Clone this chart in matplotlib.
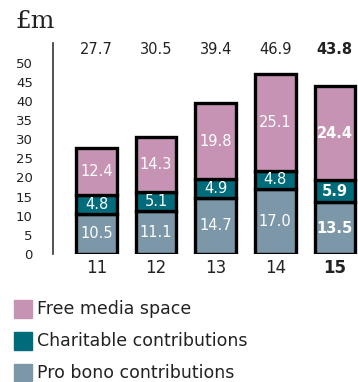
import matplotlib
matplotlib.use("Agg")
import matplotlib.pyplot as plt
from matplotlib.patches import Rectangle
import numpy as np

years = ["11", "12", "13", "14", "15"]
pro_bono = [10.5, 11.1, 14.7, 17.0, 13.5]
charitable = [4.8, 5.1, 4.9, 4.8, 5.9]
free_media = [12.4, 14.3, 19.8, 25.1, 24.4]
totals = [27.7, 30.5, 39.4, 46.9, 43.8]
y_ticks = [0, 5, 10, 15, 20, 25, 30, 35, 40, 45, 50]

series_names = ["Free media space", "Charitable contributions", "Pro bono contributions"]
c_media = "#c793b4"
c_char = "#006b7b"
c_pro = "#7b97a8"
txt = "#222222"

plt.rcParams["font.family"] = ["DejaVu Sans"]

W, H = 358, 382
fig = plt.figure(figsize=(W / 100, H / 100), dpi=100)
ax_left, ax_bottom_px, ax_top_px = 53, 254, 43.4
ax = fig.add_axes([ax_left / W, (H - ax_bottom_px) / H, (W - ax_left) / W,
                   (ax_bottom_px - ax_top_px) / H])

x = np.arange(len(years))
width = 0.68
edge = dict(edgecolor="black", linewidth=2.4)
bottom = np.zeros(len(years))
for vals, col in [(pro_bono, c_pro), (charitable, c_char), (free_media, c_media)]:
    ax.bar(x, vals, width, bottom=bottom, color=col, **edge)
    for i, v in enumerate(vals):
        bold = i == len(years) - 1
        ax.text(x[i], bottom[i] + v / 2, f"{v:.1f}", ha="center", va="center",
                color="white", fontsize=10.5,
                fontweight="bold" if bold else "normal")
    bottom += np.array(vals)

for i, t in enumerate(totals):
    bold = i == len(years) - 1
    ax.text(x[i], 53.3, f"{t:.1f}", ha="center", va="center", color=txt,
            fontsize=10.5, fontweight="bold" if bold else "normal")
    ax.text(x[i], -3.7, years[i], ha="center", va="center", color=txt,
            fontsize=12, fontweight="bold" if bold else "normal")

ax.set_ylim(0, 55)
ax.set_xlim((53 - 96.5) / 59.6, (358 - 96.5) / 59.6)
ax.set_yticks(y_ticks)
ax.set_yticklabels([str(v) for v in y_ticks], fontsize=9.5, color=txt)
ax.tick_params(axis="y", length=0, pad=14.5)
ax.set_xticks([])
for s in ["top", "right", "bottom"]:
    ax.spines[s].set_visible(False)
ax.spines["left"].set_color("#333333")
ax.spines["left"].set_linewidth(1.2)

fig.text(15 / W, 1 - 22 / H, "£m", fontsize=18, family="DejaVu Serif",
         va="center", ha="left", color=txt)

leg_cols = [c_media, c_char, c_pro]
leg_y = [309, 341, 373]
for name, col, yy in zip(series_names, leg_cols, leg_y):
    fig.patches.append(Rectangle((14 / W, 1 - (yy + 9) / H), 18 / W, 18 / H,
                                 transform=fig.transFigure, color=col))
    fig.text(37 / W, 1 - yy / H, name, fontsize=12.5, va="center", ha="left",
             color=txt)

fig.savefig("out.png", dpi=100)
